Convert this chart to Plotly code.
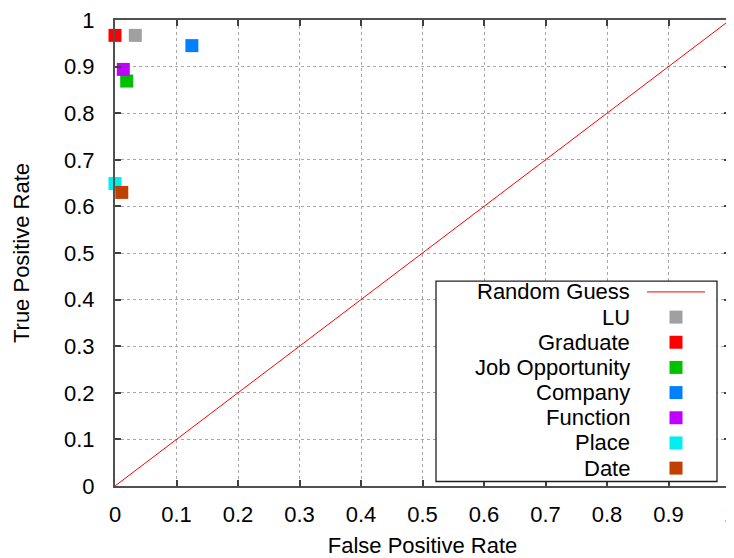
import plotly.graph_objects as go

series_names = ["LU", "Graduate", "Job Opportunity", "Company", "Function", "Place", "Date"]
fpr = [0.033, 0.0, 0.019, 0.125, 0.0135, 0.0, 0.011]
tpr = [0.967, 0.967, 0.869, 0.945, 0.894, 0.649, 0.630]
colors = ["#a0a0a0", "#ff0000", "#00c000", "#0080ff", "#c000ff", "#00eeee", "#c04000"]
diag_x = [0, 1]
diag_y = [0, 1]
ticks = [0, 0.1, 0.2, 0.3, 0.4, 0.5, 0.6, 0.7, 0.8, 0.9, 1]

FONT = "Liberation Sans, Arial, sans-serif"
FS = 22
# page body has an 8px margin: the figure is offset by (8, 8) in the window
OFF = 8
W, H = 734 - OFF, 558 - OFF
L, R, T, B = 115 - OFF, 4, 19.5 - OFF, 72

fig = go.Figure()
fig.add_trace(go.Scatter(x=diag_x, y=diag_y, mode="lines", name="Random Guess",
                         line=dict(color="#ff0000", width=1), showlegend=False))
for n, xv, yv, c in zip(series_names, fpr, tpr, colors):
    fig.add_trace(go.Scatter(x=[xv], y=[yv], mode="markers", name=n, showlegend=False,
                             marker=dict(symbol="square", size=13, color=c,
                                         line=dict(width=0)), cliponaxis=False))

axis_common = dict(range=[0, 1], tickvals=ticks, ticktext=[f"{t:g}" for t in ticks],
                   showgrid=True, gridcolor="#a8a8a8", griddash="dot", gridwidth=1,
                   ticks="inside", ticklen=6, tickcolor="#404040", tickwidth=1.5, mirror="allticks",
                   showline=True, linecolor="#505050", linewidth=2, zeroline=False,
                   automargin=False, ticklabeloverflow="allow",
                   tickfont=dict(family=FONT, size=FS, color="black"))

fig.update_xaxes(**axis_common, ticklabelstandoff=8,
                 title=dict(text="False Positive Rate", font=dict(family=FONT, size=FS, color="black"), standoff=17))
fig.update_yaxes(**axis_common, ticklabelstandoff=14,
                 title=dict(text="True Positive Rate", font=dict(family=FONT, size=FS, color="black"), standoff=28))

# custom legend (gnuplot style: text right-aligned, sample on right); coords in window pixels
pw = W - L - R
ph = H - T - B
def px(x):
    return (x - OFF - L) / pw
def py(y):
    return (H - B - (y - OFF)) / ph

shapes = [dict(type="rect", xref="paper", yref="paper", x0=px(436), x1=px(717), y0=py(481.5), y1=py(281),
               fillcolor="white", line=dict(color="#202020", width=1.3), layer="above")]
annotations = []
labels = ["Random Guess"] + series_names
row_y0, row_dy = 291.7, 25.2
for i, lab in enumerate(labels):
    yy = row_y0 + i * row_dy
    annotations.append(dict(xref="paper", yref="paper", x=px(632), y=py(yy), text=lab, showarrow=False,
                            xanchor="right", yanchor="middle", font=dict(family=FONT, size=FS, color="black")))
    if i == 0:
        shapes.append(dict(type="line", xref="paper", yref="paper", x0=px(647), x1=px(705), y0=py(yy), y1=py(yy),
                           line=dict(color="#ff0000", width=1), layer="above"))
    else:
        shapes.append(dict(type="rect", xref="paper", yref="paper", x0=px(669.5), x1=px(682.5),
                           y0=py(yy + 6.5), y1=py(yy - 6.5), fillcolor=colors[i - 1],
                           line=dict(width=0), layer="above"))

fig.update_layout(width=W, height=H, margin=dict(l=L, r=R, t=T, b=B),
                  paper_bgcolor="white", plot_bgcolor="white", showlegend=False,
                  shapes=shapes, annotations=annotations, font=dict(family=FONT, size=FS))
fig.write_html("out.html")
